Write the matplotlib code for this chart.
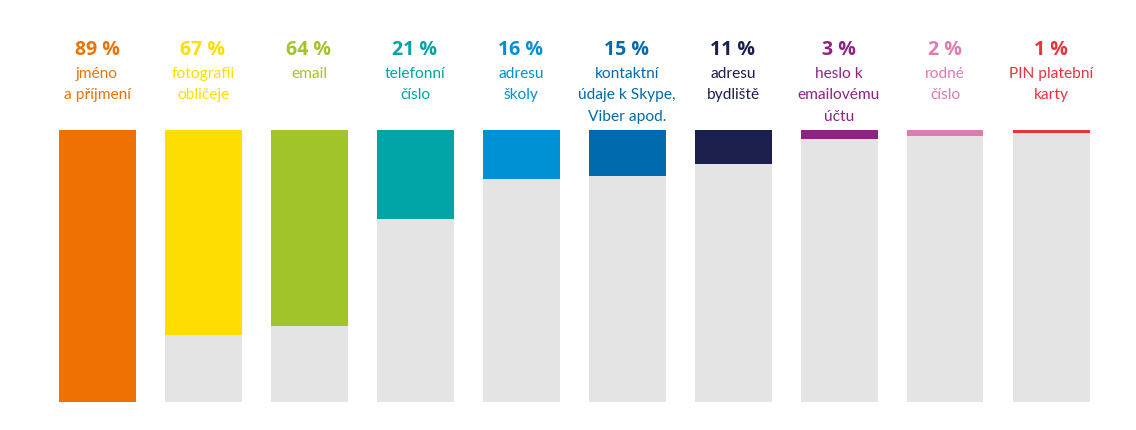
import matplotlib
matplotlib.use("Agg")
import matplotlib.pyplot as plt
from matplotlib.transforms import blended_transform_factory

# Data
percent = [89, 67, 64, 21, 16, 15, 11, 3, 2, 1]
# coloured fill length as drawn in the original (teal bar is drawn longer than its label)
fill_values = [89, 67, 64, 29, 16, 15, 11, 3, 2, 1]
categories = [
    "jméno\na příjmení",
    "fotografii\nobličeje",
    "email",
    "telefonní\nčíslo",
    "adresu\nškoly",
    "kontaktní\núdaje k Skype,\nViber apod.",
    "adresu\nbydliště",
    "heslo k\nemailovému\núčtu",
    "rodné\nčíslo",
    "PIN platební\nkarty",
]
colors = ["#EE7203", "#FFDD00", "#A2C42B", "#00A3A6", "#0090D4",
          "#006AAE", "#1B1F4E", "#8E2383", "#E07AB0", "#E8333D"]
max_value = 89

W, H = 1136, 430
fig = plt.figure(figsize=(W / 100, H / 100), dpi=100)
fig.patch.set_facecolor("white")

left, right = 44, 1104
top, bottom = 130, 402
ax = fig.add_axes([left / W, 1 - bottom / H, (right - left) / W, (bottom - top) / H])
ax.set_xlim(-0.5, len(percent) - 0.5)
ax.set_ylim(max_value, 0)
ax.axis("off")

x = list(range(len(percent)))
bw = 77 / 106
ax.bar(x, [max_value] * len(x), width=bw, color="#E4E4E4", align="center", bottom=0)
ax.bar(x, fill_values, width=bw, color=colors, align="center", bottom=0)

tr = blended_transform_factory(ax.transData, fig.transFigure)
for i, (p, c, col) in enumerate(zip(percent, categories, colors)):
    ax.text(i, 1 - 50 / H, f"{p} %", transform=tr, ha="center", va="center",
            fontsize=14, fontweight="bold", color=col, family="Open Sans")
    ax.text(i, 1 - 67 / H, c, transform=tr, ha="center", va="top",
            fontsize=11.2, color=col, family="Lato", linespacing=1.66,
            multialignment="center")

fig.savefig("out.png", dpi=100, facecolor=fig.get_facecolor())
